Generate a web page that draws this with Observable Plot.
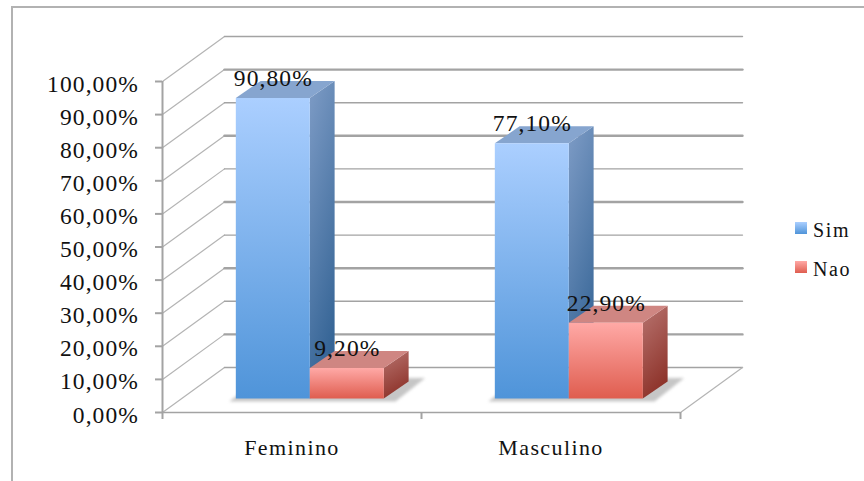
<!DOCTYPE html>
<html lang="pt">
<head>
<meta charset="utf-8">
<title>Sim / Nao por sexo</title>
<script src="https://cdn.jsdelivr.net/npm/d3@7"></script>
<script src="https://cdn.jsdelivr.net/npm/@observablehq/plot@0.6"></script>
<style>
  html, body { margin: 0; background: #fff; }
  #chart { position: relative; width: 864px; height: 481px; overflow: hidden; }
  #chart svg { position: absolute; left: 0; top: 0; background: transparent; letter-spacing: 1.1px; }
  #chart svg .categoria { letter-spacing: 1.4px; }
  #frame { position: absolute; left: 11px; top: 6px; right: -4px; bottom: -4px;
           border: 2px solid #b2b2b2; }
  .legend { position: absolute; left: 795px; font: 20px "Liberation Serif", serif; letter-spacing: 1.6px; color: #111; line-height: 20px; }
  .legend i { position: absolute; left: 0; top: 3px; width: 12px; height: 12px; }
  .legend span { margin-left: 18px; position: relative; top: 1px; }
</style>
</head>
<body>
<div id="chart"><div id="frame"></div></div>
<script>
// Percentages per category and answer
const categorias = ["Feminino", "Masculino"];
const respostas = ["Sim", "Nao"];
const sim = [90.8, 77.1];
const nao = [9.2, 22.9];
const ticks = [0, 10, 20, 30, 40, 50, 60, 70, 80, 90, 100];

const pct = (v, d = 2) => v.toFixed(d).replace(".", ",") + "%";

// Oblique projection: depth z in 0..1 shifts a point right and up, in data units
const wallDx = 0.2394, wallDy = 13.6;
const px = (x, z) => x + z * wallDx;
const py = (y, z) => y + z * wallDy;

// Bar layout inside one category (units of the x scale)
const barStart = 0.2132, barWidth = 0.2857;
const zFront = 0.30, zBack = 0.678, zBackX = 0.70;

const fonte = "Liberation Serif";
const grade = "#a3a3a3";

// Gradient definitions shared by the bar faces
function defs() {
  const svgNS = "http://www.w3.org/2000/svg";
  const d = document.createElementNS(svgNS, "defs");
  const grad = (id, a, b, x2 = 0) => {
    const g = document.createElementNS(svgNS, "linearGradient");
    g.setAttribute("id", id);
    g.setAttribute("x1", 0); g.setAttribute("y1", 0);
    g.setAttribute("x2", x2); g.setAttribute("y2", 1);
    [[0, a], [1, b]].forEach(([o, c]) => {
      const s = document.createElementNS(svgNS, "stop");
      s.setAttribute("offset", o); s.setAttribute("stop-color", c);
      g.append(s);
    });
    d.append(g);
  };
  grad("simFront", "#abcfff", "#4f94d9");
  grad("simSide", "#7e9cc6", "#366596", 0.3);
  grad("naoFront", "#ffa9a6", "#df5d4f");
  grad("naoSide", "#b87470", "#8e342b", 0.3);
  return d;
}

const topo = { Sim: "#86a5cf", Nao: "#cf8682" };

// Three faces of one bar, drawn front-most last
function barra(i, s, valor, serie) {
  const x0 = i + barStart + s * barWidth, x1 = x0 + barWidth;
  const face = serie.toLowerCase();
  return [
    Plot.areaY(
      [
        { x: px(x1, zFront), y1: py(0, zFront), y2: py(valor, zFront) },
        { x: px(x1, zBackX), y1: py(0, zBack), y2: py(valor, zBack) }
      ],
      { x: "x", y1: "y1", y2: "y2", fill: `url(#${face}Side)` }
    ),
    Plot.areaX(
      [
        { y: py(valor, zFront), x1: px(x0, zFront), x2: px(x1, zFront) },
        { y: py(valor, zBack), x1: px(x0, zBackX), x2: px(x1, zBackX) }
      ],
      { y: "y", x1: "x1", x2: "x2", fill: topo[serie] }
    ),
    Plot.areaY(
      [
        { x: px(x0, zFront), y1: py(0, zFront), y2: py(valor, zFront) },
        { x: px(x1, zFront), y1: py(0, zFront), y2: py(valor, zFront) }
      ],
      { x: "x", y1: "y1", y2: "y2", fill: `url(#${face}Front)` }
    )
  ];
}

// Soft floor shadow behind the pair of bars in a category
function sombra(i) {
  const x0 = i + barStart - 0.02, x1 = i + barStart + 2 * barWidth + 0.05;
  return Plot.areaX(
    [
      { y: py(-0.6, zFront - 0.02), x1: px(x0, zFront - 0.02), x2: px(x1, zFront - 0.02) },
      { y: py(0, zBack + 0.08), x1: px(x0, zBack + 0.08), x2: px(x1, zBack + 0.08) }
    ],
    { y: "y", x1: "x1", x2: "x2", fill: "#777", fillOpacity: 0.42, imageFilter: "blur(1.5px)" }
  );
}

// Back-wall line and lighter side-wall line for one tick value
const linhaGrade = (v) => [
  Plot.line(
    [
      { x: px(0, 0), y: py(v, 0) },
      { x: px(0, 1), y: py(v, 1) }
    ],
    { x: "x", y: "y", stroke: "#b4b4b4", strokeWidth: 1.2 }
  ),
  Plot.line(
    [
      { x: px(0, 1), y: py(v, 1) },
      { x: px(2, 1), y: py(v, 1) }
    ],
    { x: "x", y: "y", stroke: grade, strokeWidth: v / 10 % 2 ? 2.4 : 1.4 }
  )
];

const rotulos = categorias.flatMap((c, i) =>
  respostas.map((r, s) => {
    const valor = (s === 0 ? sim : nao)[i];
    return { x: px(i + barStart + (s + 0.5) * barWidth, zFront), y: py(valor, zFront), t: pct(valor) };
  })
);

const plot = Plot.plot({
  width: 864,
  height: 481,
  marginLeft: 162,
  marginRight: 184,
  marginTop: 81,
  marginBottom: 69,
  style: { background: "transparent", overflow: "visible" },
  x: { domain: [0, 2] },
  y: { domain: [0, 100] },
  marks: [
    defs,
    ...ticks.flatMap(linhaGrade),
    // right edge of the floor
    Plot.line(
      [
        { x: px(2, 0), y: py(0, 0) },
        { x: px(2, 1), y: py(0, 1) }
      ],
      { x: "x", y: "y", stroke: "#b4b4b4", strokeWidth: 1.2 }
    ),
    Plot.ruleY([0], { stroke: grade, strokeWidth: 1.6 }),
    Plot.ruleX([0], { y1: 0, y2: 100, stroke: grade, strokeWidth: 2 }),
    // tick marks and tick labels are separate so the labels can sit slightly lower
    Plot.axisY({
      ticks,
      tickSize: 7,
      text: null,
      label: null,
      stroke: grade,
      strokeWidth: 2
    }),
    Plot.axisY({
      ticks,
      tickSize: 0,
      tickPadding: 23.5,
      tickFormat: (v) => pct(v),
      label: null,
      fill: "#111",
      fontFamily: fonte,
      fontSize: 23.5,
      dy: 2.5
    }),
    Plot.axisX({
      ticks: [0, 1, 2],
      tickSize: 7,
      tickFormat: () => "",
      label: null,
      stroke: grade,
      strokeWidth: 2
    }),
    Plot.text(categorias, {
      x: (d, i) => i + 0.5,
      frameAnchor: "bottom",
      dy: 42,
      text: (d) => d,
      fill: "#111",
      fontFamily: fonte,
      fontSize: 22,
      className: "categoria"
    }),
    ...categorias.map((c, i) => sombra(i)),
    ...categorias.flatMap((c, i) => [
      ...barra(i, 0, sim[i], "Sim"),
      ...barra(i, 1, nao[i], "Nao")
    ]),
    Plot.text(rotulos, {
      x: "x",
      y: "y",
      text: "t",
      dy: -20,
      fill: "#111",
      fontFamily: fonte,
      fontSize: 23.5
    })
  ]
});

const chart = document.getElementById("chart");
chart.append(plot);

// Legend to the right of the plot
respostas.forEach((r, i) => {
  const item = document.createElement("div");
  item.className = "legend";
  item.style.top = (219 + i * 39) + "px";
  const cor = i === 0 ? "#abcfff, #4f94d9" : "#ffa9a6, #df5d4f";
  item.innerHTML = `<i style="background:linear-gradient(${cor})"></i><span>${r}</span>`;
  chart.append(item);
});
</script>
</body>
</html>
